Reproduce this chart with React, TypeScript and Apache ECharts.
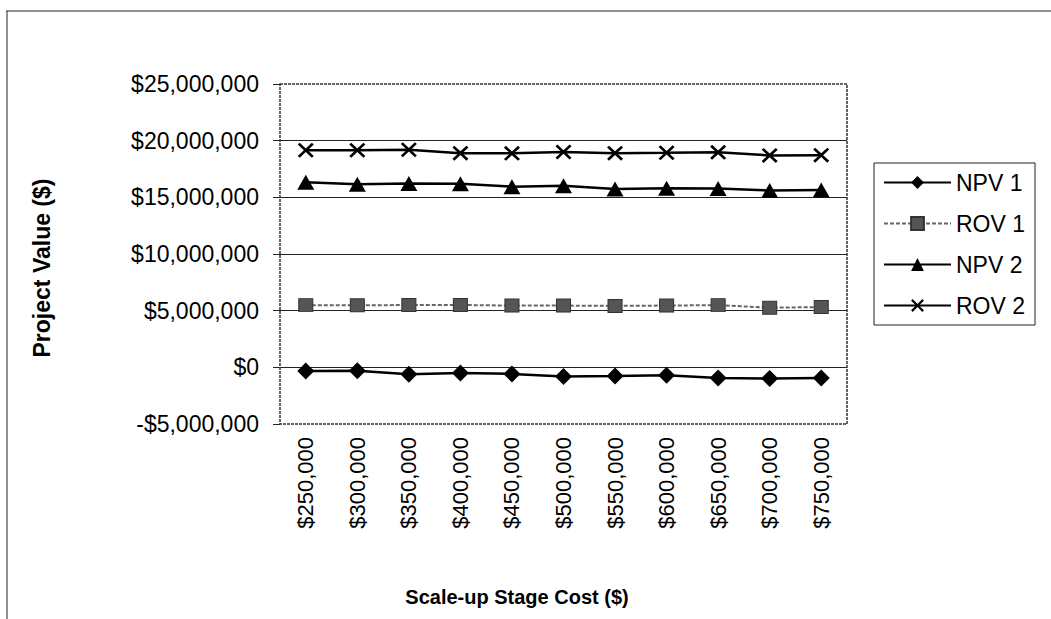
import React, { useEffect, useRef } from "react";
import * as echarts from "echarts";

// Scale-up stage cost (x axis categories)
const categories = [
  "$250,000", "$300,000", "$350,000", "$400,000", "$450,000", "$500,000",
  "$550,000", "$600,000", "$650,000", "$700,000", "$750,000",
];

// Project values in millions of dollars
const npv1 = [-0.33, -0.31, -0.6, -0.5, -0.58, -0.8, -0.77, -0.7, -0.95, -0.98, -0.95];
const rov1 = [5.49, 5.47, 5.5, 5.5, 5.45, 5.45, 5.42, 5.45, 5.49, 5.26, 5.32];
const npv2 = [16.32, 16.15, 16.22, 16.19, 15.94, 16.03, 15.74, 15.81, 15.78, 15.61, 15.65];
const rov2 = [19.15, 19.15, 19.2, 18.9, 18.88, 19.0, 18.9, 18.93, 18.97, 18.7, 18.72];

const seriesNames = ["NPV 1", "ROV 1", "NPV 2", "ROV 2"];

const yMin = -5000000;
const yMax = 25000000;
const yStep = 5000000;

const FONT = "Arial, 'Liberation Sans', Helvetica, sans-serif";
const GRID = { left: 280, top: 84, width: 567, height: 340 };

const toDollars = (arr: number[]) => arr.map((v) => Math.round(v * 1000000));

const formatMoney = (v: number) =>
  (v < 0 ? "-" : "") + "$" + Math.abs(v).toLocaleString("en-US");

const CROSS =
  "path://M0,1.2L1.2,0L5,3.8L8.8,0L10,1.2L6.2,5L10,8.8L8.8,10L5,6.2L1.2,10L0,8.8L3.8,5Z";

export default function App() {
  const ref = useRef<HTMLDivElement>(null);

  useEffect(() => {
    if (!ref.current) return;
    const chart = echarts.init(ref.current, undefined, { renderer: "svg" });

    chart.setOption({
      animation: false,
      backgroundColor: "#ffffff",
      textStyle: { fontFamily: FONT },
      grid: { left: GRID.left, top: GRID.top, width: GRID.width, height: GRID.height },
      legend: {
        data: seriesNames,
        orient: "vertical",
        left: 874,
        top: 163,
        padding: [8, 10, 8, 9],
        itemGap: 18,
        itemWidth: 67,
        itemHeight: 16,
        borderColor: "#222",
        borderWidth: 1,
        textStyle: { fontSize: 23, color: "#000", fontFamily: FONT, lineHeight: 22 },
      },
      xAxis: {
        type: "category",
        data: categories,
        boundaryGap: true,
        axisLine: { show: false },
        axisTick: { show: false },
        axisLabel: {
          rotate: 90,
          margin: 13,
          fontSize: 22,
          color: "#000",
          fontFamily: FONT,
          interval: 0,
        },
        splitLine: { show: false },
      },
      yAxis: {
        type: "value",
        min: yMin,
        max: yMax,
        interval: yStep,
        axisLine: { show: false },
        axisTick: { show: true, length: 7, lineStyle: { color: "#222", width: 1 } },
        axisLabel: {
          margin: 21,
          fontSize: 23,
          color: "#000",
          fontFamily: FONT,
          formatter: (v: number) => formatMoney(v),
        },
        splitLine: {
          show: true,
          showMinLine: false,
          showMaxLine: false,
          lineStyle: { color: "#222", width: 1 },
        },
      },
      graphic: [
        {
          type: "rect",
          shape: { x: GRID.left, y: GRID.top, width: GRID.width, height: GRID.height },
          style: { fill: "none", stroke: "#333", lineWidth: 1.5, lineDash: [3, 1] },
          z: 1,
        },
        {
          type: "line",
          shape: { x1: 6, y1: 11, x2: 1051, y2: 11 },
          style: { stroke: "#222", lineWidth: 1 },
        },
        {
          type: "line",
          shape: { x1: 7, y1: 11, x2: 7, y2: 619 },
          style: { stroke: "#222", lineWidth: 1 },
        },
        {
          type: "text",
          x: 42,
          y: 268,
          rotation: Math.PI / 2,
          style: {
            text: "Project Value ($)",
            font: `bold 23px ${FONT}`,
            fill: "#000",
            align: "center",
            verticalAlign: "middle",
          },
        },
        {
          type: "text",
          x: 517,
          y: 597,
          style: {
            text: "Scale-up Stage Cost ($)",
            font: `bold 20px ${FONT}`,
            fill: "#000",
            align: "center",
            verticalAlign: "middle",
          },
        },
      ],
      series: [
        {
          name: seriesNames[0],
          type: "line",
          data: toDollars(npv1),
          symbol: "diamond",
          symbolSize: [17, 17],
          lineStyle: { color: "#000", width: 2.5 },
          itemStyle: { color: "#000" },
          z: 3,
        },
        {
          name: seriesNames[1],
          type: "line",
          data: toDollars(rov1),
          symbol: "rect",
          symbolSize: [14, 13],
          lineStyle: { color: "#666", width: 2, type: [4, 2] },
          itemStyle: { color: "#555", borderColor: "#333", borderWidth: 1 },
          z: 3,
        },
        {
          name: seriesNames[2],
          type: "line",
          data: toDollars(npv2),
          symbol: "triangle",
          symbolSize: [17, 15],
          lineStyle: { color: "#000", width: 2.5 },
          itemStyle: { color: "#000" },
          z: 3,
        },
        {
          name: seriesNames[3],
          type: "line",
          data: toDollars(rov2),
          symbol: CROSS,
          symbolSize: [16, 15],
          lineStyle: { color: "#000", width: 2.5 },
          itemStyle: { color: "#000" },
          z: 3,
        },
      ],
    });

    return () => chart.dispose();
  }, []);

  return (
    <div
      ref={ref}
      style={{ position: "fixed", left: 0, top: 0, width: 1051, height: 619 }}
    />
  );
}
